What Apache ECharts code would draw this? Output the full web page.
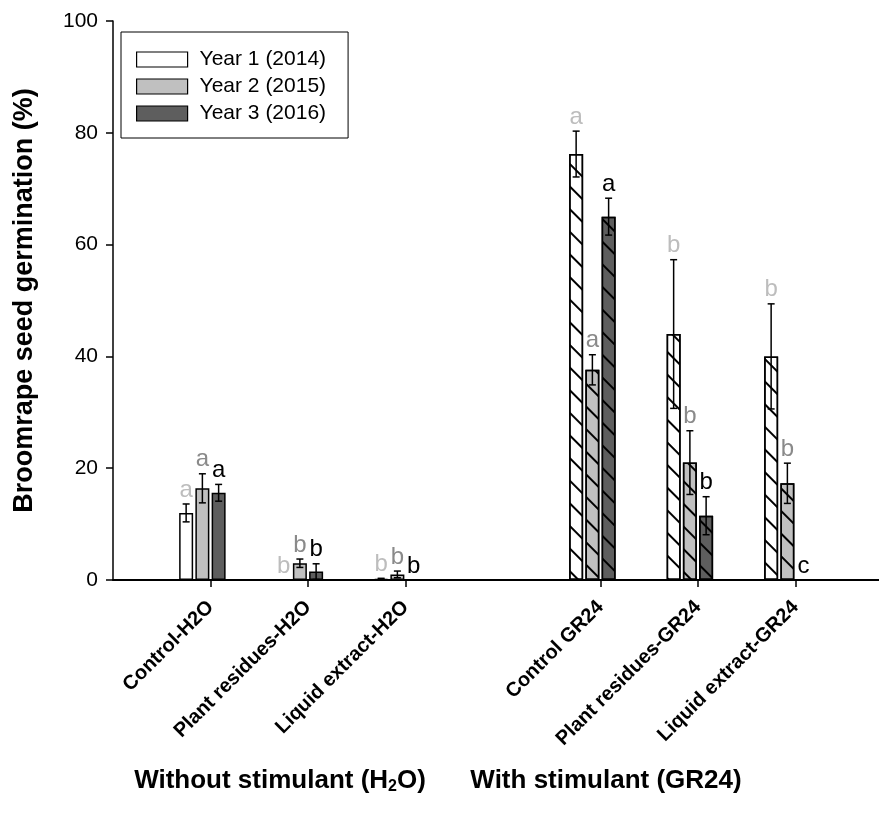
<!DOCTYPE html>
<html>
<head>
<meta charset="utf-8">
<script src="https://cdn.jsdelivr.net/npm/echarts@6/dist/echarts.min.js"></script>
<style>
  html, body { margin: 0; padding: 0; background: #fff; }
  #chart { width: 879px; height: 814px; }
</style>
</head>
<body>
<div id="chart"></div>
<script>
// ---- data ----
const categories = ['', 'Control-H2O', 'Plant residues-H2O', 'Liquid extract-H2O', '', 'Control GR24', 'Plant residues-GR24', 'Liquid extract-GR24', ''];
const seriesNames = ['Year 1 (2014)', 'Year 2 (2015)', 'Year 3 (2016)'];
const year1 = [null, 12.0, 0, 0.2, null, 76.2, 44.0, 40.0, null];
const year2 = [null, 16.4, 3.0, 1.0, null, 37.6, 21.0, 17.3, null];
const year3 = [null, 15.6, 1.5, 0, null, 65.0, 11.5, 0, null];
const err1 = [null, 1.6, 0, 0.1, null, 4.1, 13.3, 9.4, null];
const err2 = [null, 2.6, 0.75, 0.6, null, 2.7, 5.7, 3.6, null];
const err3 = [null, 1.5, 1.4, 0, null, 3.3, 3.4, 0, null];
const sig1 = ['', 'a', 'b', 'b', '', 'a', 'b', 'b', ''];
const sig2 = ['', 'a', 'b', 'b', '', 'a', 'b', 'b', ''];
const sig3 = ['', 'a', 'b', 'b', '', 'a', 'b', 'c', ''];
const hatched = [false, false, false, false, false, true, true, true, false];
const yTicks = [0, 20, 40, 60, 80, 100];
const groupTitles = ['Without stimulant (H', '2', 'O)', 'With stimulant (GR24)'];

// ---- styles ----
const FONT = "'Liberation Sans', Arial, sans-serif";
const fills = ['#ffffff', '#c0c0c0', '#5e5e5e'];
const letterColors = ['#bdbdbd', '#8a8a8a', '#000000'];
const BAR_W = 14;
const GAP = 0.16;
const SLOTS = 4;
const slot = BAR_W * (1 + GAP);
const totalW = SLOTS * BAR_W + (SLOTS - 1) * GAP * BAR_W;
const offsets = [0, 1, 2, 3].map(i => -totalW / 2 + i * slot + BAR_W / 2);

const decal = {
  symbol: 'rect', symbolSize: 1,
  dashArrayX: [1, 0], dashArrayY: [1.8, 13.5],
  rotation: Math.PI / 4, color: '#000'
};

const values = [year1, year2, year3];
const errs = [err1, err2, err3];
const sigs = [sig1, sig2, sig3];

const series = [];
values.forEach((arr, s) => {
  series.push({
    name: seriesNames[s],
    type: 'bar',
    barWidth: BAR_W,
    barGap: (GAP * 100) + '%',
    itemStyle: { color: fills[s], borderColor: '#000', borderWidth: 1.5 },
    emphasis: { disabled: true },
    animation: false,
    data: arr.map((v, i) => v === null ? '-' : (hatched[i] ? { value: v, itemStyle: { decal: decal } } : v))
  });
});
// empty fourth slot
series.push({
  name: 'empty', type: 'bar', barWidth: BAR_W, barGap: (GAP * 100) + '%',
  data: categories.map(() => '-'), animation: false
});
// error bars + letters
values.forEach((arr, s) => {
  const pts = [];
  arr.forEach((v, i) => { if (v !== null) pts.push([i, v, errs[s][i], i]); });
  series.push({
    type: 'custom',
    name: 'err' + s,
    animation: false,
    z: 5,
    data: pts,
    renderItem: function (params, api) {
      const ci = api.value(0), v = api.value(1), e = api.value(2), idx = api.value(3);
      const base = api.coord([ci, v]);
      const x = base[0] + offsets[s];
      const top = api.coord([ci, v + e])[1];
      const bot = api.coord([ci, v - e])[1];
      const children = [];
      if (e > 0) {
        const ls = { stroke: '#000', lineWidth: 1.5 };
        children.push({ type: 'line', shape: { x1: x, y1: top, x2: x, y2: bot }, style: ls });
        children.push({ type: 'line', shape: { x1: x - 3.5, y1: top, x2: x + 3.5, y2: top }, style: ls });
        children.push({ type: 'line', shape: { x1: x - 3.5, y1: bot, x2: x + 3.5, y2: bot }, style: ls });
      }
      children.push({
        type: 'text',
        style: {
          text: sigs[s][idx], x: x, y: top - 2,
          textAlign: 'center', textVerticalAlign: 'bottom',
          fill: letterColors[s], font: '24px ' + FONT
        }
      });
      return { type: 'group', children: children };
    }
  });
});

const chart = echarts.init(document.getElementById('chart'));
chart.setOption({
  backgroundColor: '#fff',
  animation: false,
  grid: { left: 113, top: 21, height: 559, width: 780, containLabel: false, outerBoundsMode: 'none' },
  legend: {
    data: seriesNames,
    orient: 'vertical',
    left: 121, top: 32,
    padding: [17, 22, 14, 15],
    itemWidth: 51, itemHeight: 15, itemGap: 6,
    borderColor: '#000', borderWidth: 1,
    icon: 'rect',
    itemStyle: { borderColor: '#000', borderWidth: 1.2 },
    textStyle: { fontFamily: FONT, fontSize: 21, color: '#000', padding: [0, 0, 0, 7] },
    selectedMode: false
  },
  xAxis: {
    type: 'category',
    data: categories,
    boundaryGap: false,
    axisLine: { lineStyle: { color: '#000', width: 2 } },
    axisTick: { length: 7, lineStyle: { color: '#000', width: 1.5 }, interval: (i, v) => v !== '' },
    axisLabel: {
      interval: 0, rotate: 45, margin: 24,
      fontFamily: FONT, fontWeight: 'bold', fontSize: 20, color: '#000'
    },
    splitLine: { show: false }
  },
  yAxis: {
    type: 'value', min: yTicks[0], max: yTicks[yTicks.length - 1], interval: yTicks[1] - yTicks[0],
    name: 'Broomrape seed germination (%)',
    nameLocation: 'middle', nameGap: 75,
    nameTextStyle: { fontFamily: FONT, fontWeight: 'bold', fontSize: 27, color: '#000' },
    axisLine: { show: true, lineStyle: { color: '#000', width: 1.5 } },
    axisTick: { show: true, length: 7, lineStyle: { color: '#000', width: 1.5 } },
    axisLabel: { fontFamily: FONT, fontSize: 21, color: '#000', margin: 15 },
    splitLine: { show: false }
  },
  graphic: [
    {
      type: 'text', x: 280, y: 781,
      style: {
        text: '{n|' + groupTitles[0] + '}{s|' + groupTitles[1] + '}{n|' + groupTitles[2] + '}',
        textAlign: 'center', textVerticalAlign: 'middle',
        rich: {
          n: { fontFamily: FONT, fontWeight: 'bold', fontSize: 26, fill: '#000' },
          s: { fontFamily: FONT, fontWeight: 'bold', fontSize: 16, fill: '#000', padding: [12, 0, 0, 0] }
        }
      }
    },
    {
      type: 'text', x: 606, y: 781,
      style: {
        text: groupTitles[3], textAlign: 'center', textVerticalAlign: 'middle',
        fontFamily: FONT, fontWeight: 'bold', fontSize: 26, fill: '#000'
      }
    }
  ],
  series: series
});
</script>
</body>
</html>
